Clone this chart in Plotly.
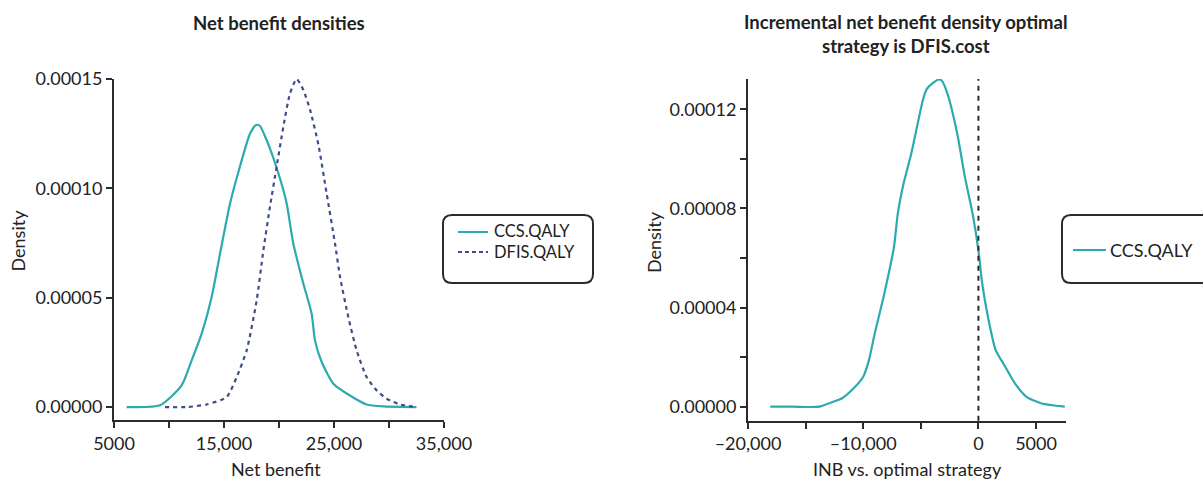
"""Net benefit densities and incremental net benefit density."""

import plotly.graph_objects as go

TEAL = "#2BABAE"
NAVY = "#3F4C8C"
AXIS = "#2b2b2b"
TEXT = "#222"
FONT = "Lato, 'Open Sans', sans-serif"

W, H = 1203, 479

# left panel: net benefit densities
ccs_x = [6150, 9180, 11150, 12060, 12970, 13880, 14640, 15550, 16450, 17360, 17910,
         18270, 18880, 19480, 20240, 20700, 21300, 22210, 22970, 23270, 23880, 24940,
         26450, 27970, 29480, 32500]
ccs_y = [0.0, 0.0000008, 0.0000099, 0.0000214, 0.0000336, 0.0000504, 0.0000702,
         0.0000931, 0.000110, 0.000125, 0.000129, 0.0001285, 0.000122, 0.000114,
         0.000102, 0.0000931, 0.0000748, 0.0000565, 0.0000427, 0.0000305, 0.0000206,
         0.0000107, 0.0000053, 0.0000012, 0.0000003, 0.0]

dfis_x = [9640, 11600, 13420, 15240, 16150, 17060, 17970, 18580, 19180, 19790, 20390,
          21000, 21600, 22210, 22820, 23580, 24330, 25090, 25550, 26300, 27060, 27970,
          28880, 29790, 31000, 32500]
dfis_y = [0.0, 0.0, 0.0000012, 0.0000046, 0.0000137, 0.0000259, 0.0000488, 0.0000717,
          0.0000916, 0.000110, 0.000128, 0.0001434, 0.00015, 0.000145, 0.000136,
          0.000120, 0.0000977, 0.0000748, 0.0000595, 0.0000412, 0.0000259, 0.0000137,
          0.0000076, 0.0000038, 0.0000012, 0.0]

# right panel: incremental net benefit vs optimal strategy
inb_x = [-18070, -16170, -13830, -12830, -11830, -10830, -10000, -9500, -9000, -8170,
         -7330, -7000, -6500, -5830, -4830, -4500, -4000, -3430, -3170, -2670, -1830,
         -1170, -500, 0, 330, 830, 1500, 2330, 3170, 4170, 5500, 7500]
inb_y = [0.0, 0.0, 0.0, 0.0000016, 0.0000034, 0.0000074, 0.0000121, 0.0000188,
         0.0000295, 0.0000456, 0.0000644, 0.0000778, 0.0000899, 0.000102, 0.0001235,
         0.000128, 0.0001304, 0.000132, 0.0001315, 0.000126, 0.00011, 0.0000926,
         0.0000778, 0.0000631, 0.0000497, 0.0000362, 0.0000228, 0.0000161, 0.0000094,
         0.000004, 0.0000013, 0.0]

left_xticks = [5000, 10000, 15000, 20000, 25000, 30000, 35000]
left_xlabels = ["5000", "", "15,000", "", "25,000", "", "35,000"]
left_yticks = [0, 0.00005, 0.0001, 0.00015]
left_ylabels = ["0.00000", "0.00005", "0.00010", "0.00015"]
right_xticks = [-20000, -15000, -10000, -5000, 0, 5000]
right_xlabels = ["–20,000", "", "–10,000", "", "0", "5000"]
right_yticks = [0, 0.00002, 0.00004, 0.00006, 0.00008, 0.0001, 0.00012]
right_ylabels = ["0.00000", "", "0.00004", "", "0.00008", "", "0.00012"]


def px(x):
    return x / W


def py(y):
    return 1 - y / H


def rounded_box(x0, y0, x1, y1, r=9):
    rx, ry = r / W, r / H
    a, b, c, d = px(x0), py(y1), px(x1), py(y0)
    return (f"M {a + rx},{b} L {c - rx},{b} Q {c},{b} {c},{b + ry} "
            f"L {c},{d - ry} Q {c},{d} {c - rx},{d} L {a + rx},{d} "
            f"Q {a},{d} {a},{d - ry} L {a},{b + ry} Q {a},{b} {a + rx},{b} Z")


def label(text, x, y, size=18, angle=0, anchor="center"):
    fig.add_annotation(text=text, x=px(x), y=py(y), xref="paper", yref="paper",
                       showarrow=False, textangle=angle, xanchor=anchor, yanchor="middle",
                       align="left" if anchor == "left" else "center",
                       font=dict(size=size, color=TEXT))


def key(x0, x1, y, color, dash="solid"):
    fig.add_shape(type="line", xref="paper", yref="paper", x0=px(x0), x1=px(x1),
                  y0=py(y), y1=py(y), line=dict(color=color, width=2, dash=dash))


fig = go.Figure()
fig.add_trace(go.Scatter(x=ccs_x, y=ccs_y, mode="lines", name="CCS.QALY",
                         line=dict(color=TEAL, width=2.2, shape="spline", smoothing=0.6),
                         xaxis="x", yaxis="y"))
fig.add_trace(go.Scatter(x=dfis_x, y=dfis_y, mode="lines", name="DFIS.QALY",
                         line=dict(color=NAVY, width=2.2, dash="4px,4px", shape="spline",
                                   smoothing=0.6),
                         xaxis="x", yaxis="y"))
fig.add_trace(go.Scatter(x=inb_x, y=inb_y, mode="lines", name="CCS.QALY",
                         line=dict(color=TEAL, width=2.2, shape="spline", smoothing=0.6),
                         xaxis="x2", yaxis="y2"))

axis_common = dict(showline=True, linecolor=AXIS, linewidth=2, ticks="outside",
                   ticklen=6, tickwidth=2, tickcolor=AXIS, showgrid=False,
                   zeroline=False, automargin=False, tickfont=dict(size=18, color=TEXT))

fig.update_layout(
    width=W, height=H,
    margin=dict(l=0, r=0, t=0, b=0),
    paper_bgcolor="white", plot_bgcolor="white",
    font=dict(family=FONT, color=TEXT),
    showlegend=False,
    xaxis=dict(domain=[px(114), px(444)], range=[5000, 35000], tickmode="array",
               tickvals=left_xticks, ticktext=left_xlabels, anchor="y", **axis_common),
    yaxis=dict(domain=[py(420), py(79)], range=[-0.0000059, 0.00015], tickmode="array",
               tickvals=left_yticks, ticktext=left_ylabels, anchor="x", **axis_common),
    xaxis2=dict(domain=[px(748), px(1065.5)], range=[-20000, 7560], tickmode="array",
                tickvals=right_xticks, ticktext=right_xlabels, anchor="y2", **axis_common),
    yaxis2=dict(domain=[py(420.7), py(79)], range=[-0.00000565, 0.0001322], tickmode="array",
                tickvals=right_yticks, ticktext=right_ylabels, anchor="x2", **axis_common),
)

fig.add_shape(type="line", xref="x2", yref="y2 domain", x0=0, x1=0, y0=0, y1=1,
              line=dict(color=AXIS, width=2, dash="5px,5px"))

# titles and axis titles
label("<b>Net benefit densities</b>", 279, 23, size=18.5)
label("<b>Incremental net benefit density optimal<br>strategy is DFIS.cost</b>", 906, 34,
      size=18.5)
label("Net benefit", 276, 469)
label("INB vs. optimal strategy", 907, 469)
label("Density", 17.5, 241, angle=-90)
label("Density", 654, 242, angle=-90)

# legends in rounded boxes
fig.add_shape(type="path", xref="paper", yref="paper", path=rounded_box(443, 215, 593, 283),
              line=dict(color=AXIS, width=2))
key(458, 488, 232, TEAL)
key(458, 488, 252, NAVY, dash="4px,3px")
label("CCS.QALY<br>DFIS.QALY", 492, 242, size=16.5, anchor="left")

fig.add_shape(type="path", xref="paper", yref="paper", path=rounded_box(1062, 215, 1213, 283),
              line=dict(color=AXIS, width=2))
key(1073, 1106, 250, TEAL)
label("CCS.QALY", 1108, 250, anchor="left")

# drop the page's default 8px body margin so the figure fills the window
fig.write_html("out.html", config={"displayModeBar": False},
               post_script="document.body.style.margin = '0px';")
